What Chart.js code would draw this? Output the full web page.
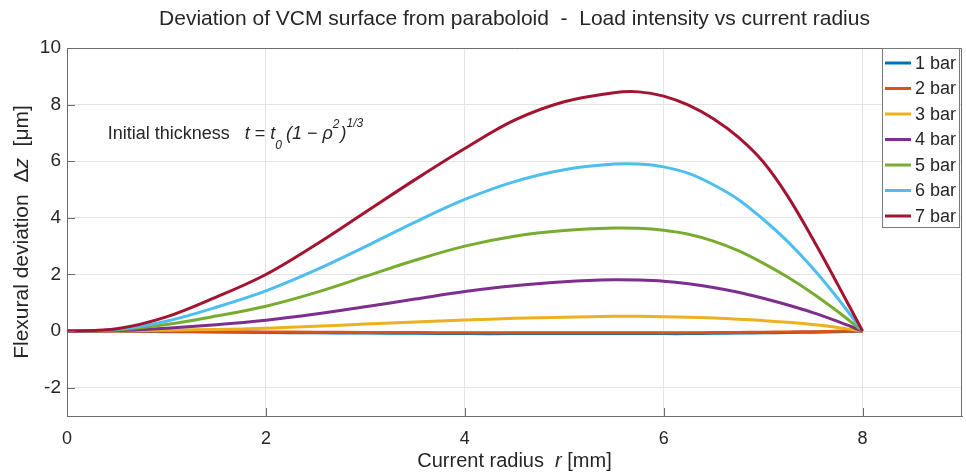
<!DOCTYPE html>
<html lang="en">
<head>
<meta charset="UTF-8">
<title>Deviation of VCM surface from paraboloid</title>
<script src="https://cdn.jsdelivr.net/npm/chart.js"></script>
<style>
  body { margin: 0; background: #ffffff; }
  #wrap { width: 966px; height: 476px; }
</style>
</head>
<body>
<div id="wrap"><canvas id="chart" width="966" height="476"></canvas></div>
<script>
  // current radius r [mm]
  const radius = [0, 0.5, 1, 1.5, 2, 2.5, 3, 3.5, 4, 4.5, 5, 5.5, 5.75, 6, 6.25, 6.5, 6.75, 7, 7.25, 7.5, 7.75, 8];

  // flexural deviation dz [um] per load
  const bar1 = [0, 0, -0.02, -0.03, -0.05, -0.06, -0.07, -0.08, -0.09, -0.09, -0.09, -0.09, -0.09, -0.09, -0.09, -0.08, -0.07, -0.06, -0.05, -0.04, -0.02, 0];
  const bar2 = [0, 0, -0.01, -0.02, -0.03, -0.04, -0.05, -0.05, -0.06, -0.06, -0.06, -0.06, -0.06, -0.06, -0.06, -0.05, -0.05, -0.04, -0.03, -0.02, -0.01, 0];
  const bar3 = [0, 0.01, 0.03, 0.06, 0.1, 0.17, 0.25, 0.32, 0.39, 0.45, 0.49, 0.52, 0.52, 0.51, 0.49, 0.46, 0.42, 0.37, 0.31, 0.23, 0.13, 0];
  const bar4 = [0, 0.02, 0.1, 0.22, 0.38, 0.6, 0.86, 1.13, 1.4, 1.6, 1.74, 1.81, 1.8, 1.76, 1.67, 1.54, 1.37, 1.16, 0.92, 0.65, 0.34, 0];
  const bar5 = [0, 0.04, 0.23, 0.53, 0.88, 1.36, 1.93, 2.5, 3.0, 3.35, 3.55, 3.64, 3.63, 3.56, 3.42, 3.18, 2.84, 2.4, 1.9, 1.33, 0.69, 0];
  const bar6 = [0, 0.06, 0.35, 0.84, 1.42, 2.15, 2.98, 3.85, 4.65, 5.28, 5.7, 5.9, 5.9, 5.8, 5.57, 5.17, 4.65, 3.95, 3.15, 2.22, 1.16, 0];
  const bar7 = [0, 0.08, 0.5, 1.2, 2.0, 3.05, 4.2, 5.35, 6.45, 7.45, 8.1, 8.42, 8.45, 8.3, 7.98, 7.5, 6.85, 5.98, 4.75, 3.25, 1.65, 0];

  const loadLabels = ['1 bar', '2 bar', '3 bar', '4 bar', '5 bar', '6 bar', '7 bar'];
  const loadSeries = [bar1, bar2, bar3, bar4, bar5, bar6, bar7];
  const lineColors = ['#0072BD', '#D95319', '#EDB120', '#7E2F8E', '#77AC30', '#4DBEEE', '#A2142F'];

  const xTicks = [0, 2, 4, 6, 8];
  const yTicks = [-2, 0, 2, 4, 6, 8, 10];

  const FONT = '"Liberation Sans", Arial, sans-serif';
  const TEXT = '#262626';

  const datasets = loadSeries.map((vals, i) => ({
    label: loadLabels[i],
    data: vals.map((v, j) => ({ x: radius[j], y: v })),
    borderColor: lineColors[i],
    backgroundColor: lineColors[i],
    borderWidth: 3,
    pointRadius: 0,
    fill: false,
    tension: 0.35,
    order: loadSeries.length - i  // last series on top, like matlab
  }));

  // titles, annotation, box, inner ticks, legend
  const decor = {
    id: 'decor',
    afterDraw(chart) {
      const ctx = chart.ctx;
      const a = chart.chartArea;
      const xs = chart.scales.x, ys = chart.scales.y;
      ctx.save();

      // box top and right
      ctx.strokeStyle = '#6b6b6b';
      ctx.lineWidth = 1;
      ctx.beginPath();
      ctx.moveTo(a.left, a.top + 0.5);
      ctx.lineTo(a.right - 0.5, a.top + 0.5);
      ctx.lineTo(a.right - 0.5, a.bottom);
      ctx.stroke();

      // inward ticks
      ctx.beginPath();
      yTicks.forEach(v => {
        const y = Math.round(ys.getPixelForValue(v)) + 0.5;
        ctx.moveTo(a.left, y); ctx.lineTo(a.left + 8, y);
      });
      xTicks.forEach(v => {
        const x = Math.round(xs.getPixelForValue(v)) + 0.5;
        ctx.moveTo(x, a.bottom); ctx.lineTo(x, a.bottom - 8);
      });
      ctx.stroke();

      ctx.fillStyle = TEXT;
      ctx.textBaseline = 'middle';

      // title
      ctx.font = '21px ' + FONT;
      ctx.textAlign = 'center';
      ctx.fillText('Deviation of VCM surface from paraboloid  -  Load intensity vs current radius', (a.left + a.right) / 2, 19);

      // x title with italic r
      const cx = (a.left + a.right) / 2;
      const parts = [['Current radius  ', '20px '], ['r', 'italic 20px '], [' [mm]', '20px ']];
      let total = 0;
      parts.forEach(p => { ctx.font = p[1] + FONT; total += ctx.measureText(p[0]).width; });
      let px = cx - total / 2;
      ctx.textAlign = 'left';
      parts.forEach(p => { ctx.font = p[1] + FONT; ctx.fillText(p[0], px, 461); px += ctx.measureText(p[0]).width; });

      // y title, rotated
      ctx.save();
      ctx.translate(22, (a.top + a.bottom) / 2);
      ctx.rotate(-Math.PI / 2);
      const yparts = [['Flexural deviation  \u0394', '21px '], ['z', 'italic 21px '], ['  [\u03bcm]', '21px ']];
      total = 0;
      yparts.forEach(p => { ctx.font = p[1] + FONT; total += ctx.measureText(p[0]).width; });
      px = -total / 2;
      yparts.forEach(p => { ctx.font = p[1] + FONT; ctx.fillText(p[0], px, 0); px += ctx.measureText(p[0]).width; });
      ctx.restore();

      // annotation
      const ax = xs.getPixelForValue(0.41), ay = ys.getPixelForValue(6.95);
      ctx.font = '18px ' + FONT;
      ctx.fillText('Initial thickness', ax, ay);
      let fx = ax + ctx.measureText('Initial thickness').width + 15;
      const it = 'italic 18px ' + FONT, its = 'italic 12px ' + FONT, rm = '18px ' + FONT;
      const put = (s, f, dy) => { ctx.font = f; ctx.fillText(s, fx, ay + dy); fx += ctx.measureText(s).width; };
      put('t', it, 0); put(' = ', rm, 0); put('t', it, 0);
      put('0', its, 11); fx += 4;
      put('(', it, 0); put('1', it, 0); put(' \u2212 ', rm, 0); put('\u03c1', it, 0);
      put('2', its, -10); fx += 1; put(')', it, 0); put('1/3', its, -11);

      // legend
      const lx = 882, ly = 48, lw = 77, lh = 179;
      ctx.fillStyle = '#ffffff';
      ctx.fillRect(lx, ly, lw, lh);
      ctx.strokeStyle = '#7a7a7a';
      ctx.strokeRect(lx + 0.5, ly + 0.5, lw, lh);
      ctx.font = '18px ' + FONT;
      ctx.textAlign = 'left';
      loadLabels.forEach((lab, i) => {
        const yy = 63 + i * 25.5;
        ctx.strokeStyle = lineColors[i];
        ctx.lineWidth = 3;
        ctx.beginPath(); ctx.moveTo(885, yy); ctx.lineTo(911, yy); ctx.stroke();
        ctx.fillStyle = TEXT;
        ctx.fillText(lab, 915, yy + 1);
      });
      ctx.restore();
    }
  };

  new Chart(document.getElementById('chart'), {
    type: 'line',
    data: { datasets: datasets },
    options: {
      responsive: false,
      animation: false,
      layout: { padding: { left: 0, right: 4, top: 48, bottom: 0 } },
      plugins: { legend: { display: false }, tooltip: { enabled: false }, title: { display: false } },
      scales: {
        x: {
          type: 'linear', min: 0, max: 9,
          afterBuildTicks: s => { s.ticks = xTicks.map(v => ({ value: v })); },
          afterFit: s => { s.height = 60; },
          grid: { color: '#e4e4e4', drawTicks: false },
          border: { color: '#6b6b6b' },
          ticks: { padding: 12, color: TEXT, font: { family: FONT, size: 18 } }
        },
        y: {
          type: 'linear', min: -3, max: 10,
          afterBuildTicks: s => { s.ticks = yTicks.map(v => ({ value: v })); },
          afterFit: s => { s.width = 67; },
          grid: { color: '#e4e4e4', drawTicks: false },
          border: { color: '#6b6b6b' },
          ticks: { padding: 6, color: TEXT, font: { family: FONT, size: 19 } }
        }
      }
    },
    plugins: [decor]
  });
</script>
</body>
</html>
